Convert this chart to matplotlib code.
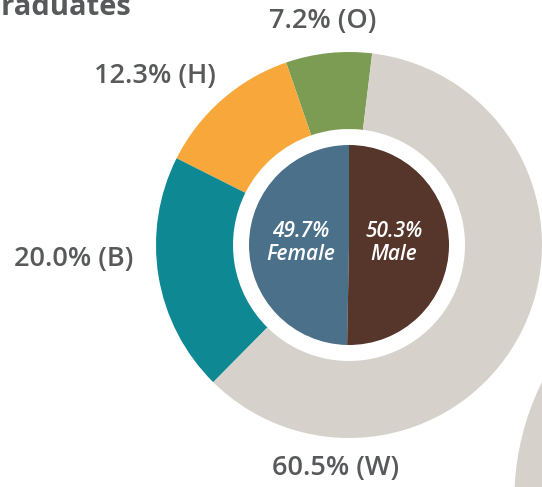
import matplotlib.pyplot as plt
from matplotlib.patches import Circle

# outer ring: race / ethnicity
race_codes = ["O", "H", "B", "W"]
race_pct = [7.2, 12.3, 20.0, 60.5]
race_colors = ["#7D9C53", "#F8A83A", "#0E8893", "#D6D1CB"]

# inner pie: gender
gender_names = ["Female", "Male"]
gender_pct = [49.7, 50.3]
gender_colors = ["#4A7189", "#56352A"]

title = "Graduates"
text_color = "#58595B"

W, H = 542, 487
fig = plt.figure(figsize=(W / 100, H / 100), dpi=100)
ax = fig.add_axes([0, 0, 1, 1])

cx, cy = 349, H - 245

# piece of a neighbouring chart peeking in at the bottom right
ax.add_patch(Circle((780, H - 500), 265, color="#D6D1CB", zorder=0))

ax.pie(race_pct, colors=race_colors, startangle=83.1, counterclock=True,
       radius=193, center=(cx, cy),
       wedgeprops=dict(width=77, edgecolor="none"))
ax.pie(gender_pct, colors=gender_colors, startangle=90, counterclock=True,
       radius=100, center=(cx, cy),
       wedgeprops=dict(edgecolor="none"))

ax.set_xlim(0, W)
ax.set_ylim(0, H)
ax.set_aspect("equal")
ax.axis("off")

font = "Open Sans"

# outer labels
race_label_pos = [(323, 21), (155, 76), (74, 259), (336, 468)]
for code, pct, (x, y) in zip(race_codes, race_pct, race_label_pos):
    ax.text(x, H - y, f"{pct:.1f}% ({code})", ha="center", va="center",
            fontsize=19.5, color=text_color, family=font, fontweight="semibold")

# inner labels
gender_label_x = [301, 394]
for name, pct, x in zip(gender_names, gender_pct, gender_label_x):
    ax.text(x, H - 243, f"{pct:.1f}%\n{name}", ha="center", va="center",
            fontsize=15, color="white", style="italic", family=font,
            fontweight="semibold", linespacing=1.1)

ax.text(131, H - 15, title, ha="right", va="baseline", fontsize=21,
        fontweight="bold", color=text_color, family=font)

fig.savefig("out.png", dpi=100)
